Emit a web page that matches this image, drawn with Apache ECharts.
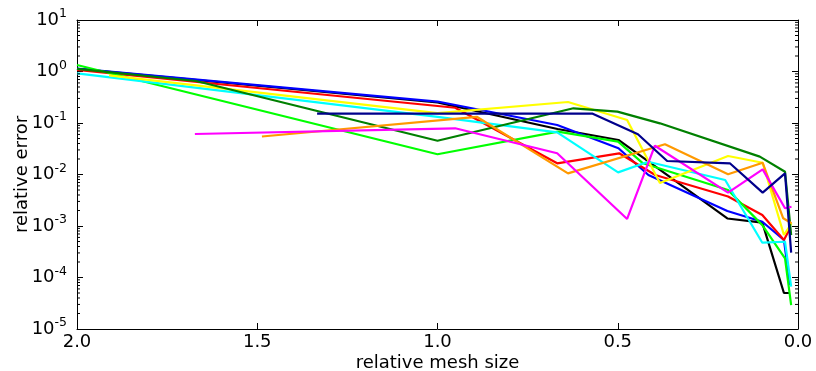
<!DOCTYPE html>
<html>
<head>
<meta charset="utf-8">
<script src="https://cdn.jsdelivr.net/npm/echarts@6/dist/echarts.min.js"></script>
<style>
html,body{margin:0;padding:0;background:#fff;}
#chart{width:816px;height:371px;}
</style>
</head>
<body>
<div id="chart"></div>
<script>
// ---- data (x = relative mesh size, y = relative error) ----
const xTickLabels = ['0.0', '0.5', '1.0', '1.5', '2.0'];
const yTickExponents = [-5, -4, -3, -2, -1, 0, 1];

const blackX = [2.0, 1.0, 0.667, 0.498, 0.196, 0.099, 0.039, 0.025];
const blackY = [1.12, 0.25, 0.0764, 0.0468, 0.0014, 0.00116, 5.0e-5, 5.0e-5];

const blueX = [2.0, 1.0, 0.668, 0.498, 0.415, 0.196, 0.099, 0.039, 0.022];
const blueY = [1.14, 0.261, 0.0914, 0.0323, 0.00977, 0.00196, 0.00121, 5.35e-4, 7.15e-5];

const redX = [2.0, 0.951, 0.668, 0.496, 0.396, 0.194, 0.099, 0.039, 0.022];
const redY = [1.07, 0.198, 0.0165, 0.0258, 0.00977, 0.00374, 0.00164, 5.35e-4, 9.14e-4];

const limeX = [2.0, 1.0, 0.666, 0.499, 0.430, 0.194, 0.099, 0.036, 0.019];
const limeY = [1.34, 0.0247, 0.0678, 0.0434, 0.0165, 0.0050, 0.00104, 2.36e-4, 2.92e-5];

const cyanX = [2.0, 1.0, 0.668, 0.499, 0.416, 0.202, 0.099, 0.036, 0.019];
const cyanY = [0.923, 0.131, 0.0659, 0.0110, 0.0177, 0.00782, 4.74e-4, 4.95e-4, 6.62e-5];

const yellowX = [1.911, 1.0, 0.638, 0.474, 0.383, 0.194, 0.098, 0.039, 0.018];
const yellowY = [0.844, 0.156, 0.256, 0.114, 0.00684, 0.0229, 0.0169, 6.68e-4, 1.13e-3];

const greenX = [2.0, 1.67, 1.0, 0.623, 0.501, 0.383, 0.106, 0.036, 0.019];
const greenY = [1.12, 0.654, 0.0453, 0.193, 0.166, 0.0986, 0.0222, 0.0113, 6.68e-4];

const orangeX = [1.487, 0.891, 0.638, 0.369, 0.194, 0.098, 0.041, 0.018];
const orangeY = [0.0547, 0.132, 0.0105, 0.0386, 0.0101, 0.0169, 0.00141, 0.00113];

const magentaX = [1.673, 0.951, 0.668, 0.474, 0.397, 0.194, 0.098, 0.036, 0.018];
const magentaY = [0.0611, 0.0789, 0.0258, 0.00137, 0.0362, 0.00444, 0.0126, 0.00221, 0.00237];

const navyX = [1.334, 0.571, 0.444, 0.363, 0.189, 0.098, 0.036, 0.019];
const navyY = [0.152, 0.153, 0.0604, 0.0183, 0.0165, 0.00444, 0.0105, 3.03e-4];

const seriesDefs = [
  ['black', blackX, blackY, '#000000'],
  ['blue', blueX, blueY, '#0000ff'],
  ['red', redX, redY, '#ff0000'],
  ['lime', limeX, limeY, '#00ff00'],
  ['cyan', cyanX, cyanY, '#00ffff'],
  ['yellow', yellowX, yellowY, '#ffff00'],
  ['green', greenX, greenY, '#008000'],
  ['orange', orangeX, orangeY, '#ff9900'],
  ['magenta', magentaX, magentaY, '#ff00ff'],
  ['navy', navyX, navyY, '#00008b']
];

// minor tick values for log axis (2..9 x 10^k)
const minorTicks = [];
for (let e = -5; e < 1; e++) {
  for (let m = 2; m <= 9; m++) minorTicks.push(m * Math.pow(10, e));
}

const FONT = 'DejaVu Sans';
const chart = echarts.init(document.getElementById('chart'));

function yLabel(v) {
  const e = Math.round(Math.log10(v));
  if (yTickExponents.indexOf(e) < 0) return '';
  return '{b|10}{s|' + e + '}';
}
function xLabel(v) {
  const s = v.toFixed(1);
  return xTickLabels.indexOf(s) >= 0 ? s : '';
}

const lineSeries = seriesDefs.map(function (d) {
  return {
    name: d[0],
    type: 'line',
    xAxisIndex: 0,
    yAxisIndex: 0,
    data: d[1].map(function (x, i) { return [x, d[2][i]]; }),
    showSymbol: false,
    symbol: 'none',
    lineStyle: { color: d[3], width: 2.2 },
    itemStyle: { color: d[3] },
    clip: true,
    animation: false
  };
});

const tickSeries = {
  type: 'custom',
  xAxisIndex: 0,
  yAxisIndex: 0,
  clip: false,
  silent: true,
  z: 10,
  data: minorTicks.map(function (v) { return [v]; }),
  renderItem: function (params, api) {
    const v = api.value(0);
    const l = api.coord([2, v]);
    const r = api.coord([0, v]);
    return {
      type: 'group',
      children: [
        { type: 'line', shape: { x1: l[0], y1: l[1], x2: l[0] + 3, y2: l[1] }, style: { stroke: '#000', lineWidth: 1 } },
        { type: 'line', shape: { x1: r[0], y1: r[1], x2: r[0] - 3, y2: r[1] }, style: { stroke: '#000', lineWidth: 1 } }
      ]
    };
  },
  encode: { y: 0 },
  animation: false
};

const xBase = {
  type: 'value', min: 0, max: 2, interval: 0.5, inverse: true,
  splitLine: { show: false },
  axisLine: { show: true, onZero: false, lineStyle: { color: '#000', width: 1 } },
  axisTick: { show: true, inside: true, length: 6, lineStyle: { color: '#000' } }
};
const yBase = {
  type: 'log', logBase: 10, min: 1e-5, max: 10, splitNumber: 6,
  splitLine: { show: false },
  axisLine: { show: true, onZero: false, lineStyle: { color: '#000', width: 1 } },
  axisTick: { show: true, inside: true, length: 6, lineStyle: { color: '#000' } }
};

chart.setOption({
  animation: false,
  backgroundColor: '#fff',
  grid: { left: 77, right: 18, top: 20, bottom: 42, containLabel: false, outerBoundsMode: 'none' },
  xAxis: [
    Object.assign({}, xBase, {
      position: 'bottom',
      name: 'relative mesh size',
      nameLocation: 'middle',
      nameGap: 25,
      nameMoveOverlap: false,
      nameTextStyle: { fontFamily: FONT, fontSize: 18, color: '#000' },
      axisLabel: { show: true, margin: 4, formatter: xLabel, fontFamily: FONT, fontSize: 18, color: '#000', showMinLabel: true, showMaxLabel: true }
    }),
    Object.assign({}, xBase, { position: 'top', axisLabel: { show: false } })
  ],
  yAxis: [
    Object.assign({}, yBase, {
      position: 'left',
      name: 'relative error',
      nameLocation: 'middle',
      nameGap: 46,
      nameMoveOverlap: false,
      nameTextStyle: { fontFamily: FONT, fontSize: 18, color: '#000' },
      axisLabel: {
        show: true, margin: 10, formatter: yLabel, color: '#000',
        rich: {
          b: { fontFamily: FONT, fontSize: 18, color: '#000' },
          s: { fontFamily: FONT, fontSize: 12.5, color: '#000', padding: [0, 0, 12, 0] }
        }
      }
    }),
    Object.assign({}, yBase, { position: 'right', axisLabel: { show: false } })
  ],
  series: lineSeries.concat([tickSeries])
});
</script>
</body>
</html>
